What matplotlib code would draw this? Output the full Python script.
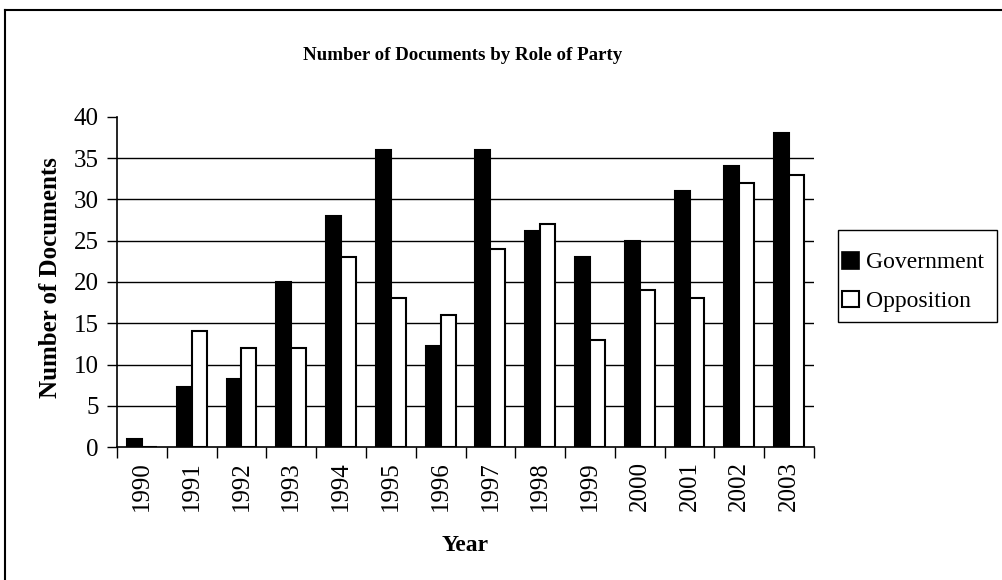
import numpy as np
import matplotlib.pyplot as plt
from matplotlib.lines import Line2D
from matplotlib.patches import Patch, Rectangle

plt.rcParams['font.family'] = ['Liberation Serif', 'DejaVu Serif']

years = ['1990', '1991', '1992', '1993', '1994', '1995', '1996',
         '1997', '1998', '1999', '2000', '2001', '2002', '2003']
government = [1, 7.3, 8.2, 20, 28, 36, 12.2, 36, 26.2, 23, 25, 31, 34, 38]
opposition = [0, 14, 12, 12, 23, 18, 16, 24, 27, 13, 19, 18, 32, 33]

fig = plt.figure(figsize=(10.02, 5.8), dpi=100)
ax = fig.add_axes([0.1168, 0.2293, 0.6956, 0.569])

x = np.arange(len(years))
w = 0.3
ax.bar(x - w / 2, government, w, color='black', edgecolor='black',
       linewidth=1.5, zorder=3, label='Government')
ax.bar(x + w / 2, opposition, w, color='white', edgecolor='black',
       linewidth=1.5, zorder=3, label='Opposition')

ax.set_xlim(-0.5, len(years) - 0.5)
ax.set_ylim(0, 40)
ax.set_yticks(range(0, 41, 5))
ax.tick_params(axis='y', labelsize=18, length=7, width=1, direction='out',
               pad=6)

# year labels at centres, tick marks at category boundaries
ax.set_xticks(x)
ax.set_xticklabels(years, rotation=90, fontsize=18)
ax.tick_params(axis='x', which='major', length=0, pad=10)
ax.set_xticks(np.arange(-0.5, len(years)), minor=True)
ax.tick_params(axis='x', which='minor', length=8, width=1, direction='out')

for yv in range(5, 40, 5):
    ax.axhline(yv, color='black', linewidth=1, zorder=1)

for s in ['top', 'right']:
    ax.spines[s].set_visible(False)
ax.spines['left'].set_linewidth(1.2)
ax.spines['bottom'].set_linewidth(1.2)

fig.text(0.462, 0.905, 'Number of Documents by Role of Party',
         ha='center', va='center', fontsize=13.6, fontweight='bold')
fig.text(0.05, 0.522, 'Number of Documents', rotation=90,
         ha='center', va='center', fontsize=18, fontweight='bold')
fig.text(0.464, 0.06, 'Year', ha='center', va='center',
         fontsize=17, fontweight='bold')

# legend entries without frame, box drawn separately
handles = [Patch(facecolor='black', edgecolor='black', linewidth=1.2),
           Patch(facecolor='white', edgecolor='black', linewidth=1.5)]
fig.legend(handles, ['Government', 'Opposition'],
           loc='center left', bbox_to_anchor=(842 / 1002, 1 - 282 / 580),
           fontsize=17, frameon=False,
           handlelength=0.7, handleheight=0.7, handletextpad=0.3,
           borderpad=0, labelspacing=0.72, borderaxespad=0)
fig.patches.append(Rectangle((838 / 1002, 1 - 322 / 580), 159 / 1002, 92 / 580,
                             transform=fig.transFigure, fill=False,
                             edgecolor='black', linewidth=1))

# outer chart border: top and left edges only
fig.lines.append(Line2D([5 / 1002, 1], [1 - 10 / 580, 1 - 10 / 580],
                        transform=fig.transFigure, color='black', linewidth=1.5))
fig.lines.append(Line2D([5 / 1002, 5 / 1002], [0, 1 - 10 / 580],
                        transform=fig.transFigure, color='black', linewidth=1.5))

fig.savefig('out.png', dpi=100)
